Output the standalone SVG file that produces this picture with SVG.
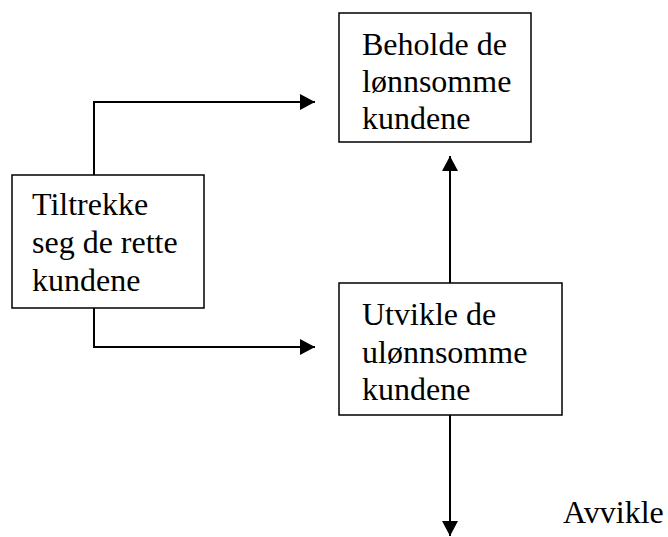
<svg xmlns="http://www.w3.org/2000/svg" width="668" height="537" viewBox="0 0 668 537">
<style>
.box{fill:#fff;stroke:#000;stroke-width:1.5}
.t{font-family:"Liberation Serif","Times New Roman",serif;font-size:32px;fill:#000}
.c{fill:none;stroke:#000;stroke-width:2}
</style>
<defs>
<marker id="ah" markerUnits="userSpaceOnUse" markerWidth="16" markerHeight="16" refX="15" refY="8" orient="auto" viewBox="0 0 16 16">
<path d="M0,0 L15,8 L0,16 Z" fill="#000"/>
</marker>
</defs>
<g id="connectors">
<path class="c" d="M94,175 V102 H315" marker-end="url(#ah)"/>
<path class="c" d="M94,308 V347 H315" marker-end="url(#ah)"/>
<path class="c" d="M450,283 V156" marker-end="url(#ah)"/>
<path class="c" d="M450,415 V536" marker-end="url(#ah)"/>
</g>
<g id="beholde">
<rect class="box" x="339" y="13" width="192" height="129"/>
<text class="t" x="362" y="55">Beholde de</text>
<text class="t" x="362" y="92">lønnsomme</text>
<text class="t" x="362" y="129">kundene</text>
</g>
<g id="tiltrekke">
<rect class="box" x="12" y="175" width="192" height="133"/>
<text class="t" x="32" y="215">Tiltrekke</text>
<text class="t" x="32" y="253">seg de rette</text>
<text class="t" x="32" y="291">kundene</text>
</g>
<g id="utvikle">
<rect class="box" x="339" y="283" width="223" height="132"/>
<text class="t" x="362" y="325">Utvikle de</text>
<text class="t" x="362" y="363">ulønnsomme</text>
<text class="t" x="362" y="400">kundene</text>
</g>
<g id="avvikle">
<text class="t" x="563" y="523">Avvikle</text>
</g>
</svg>
